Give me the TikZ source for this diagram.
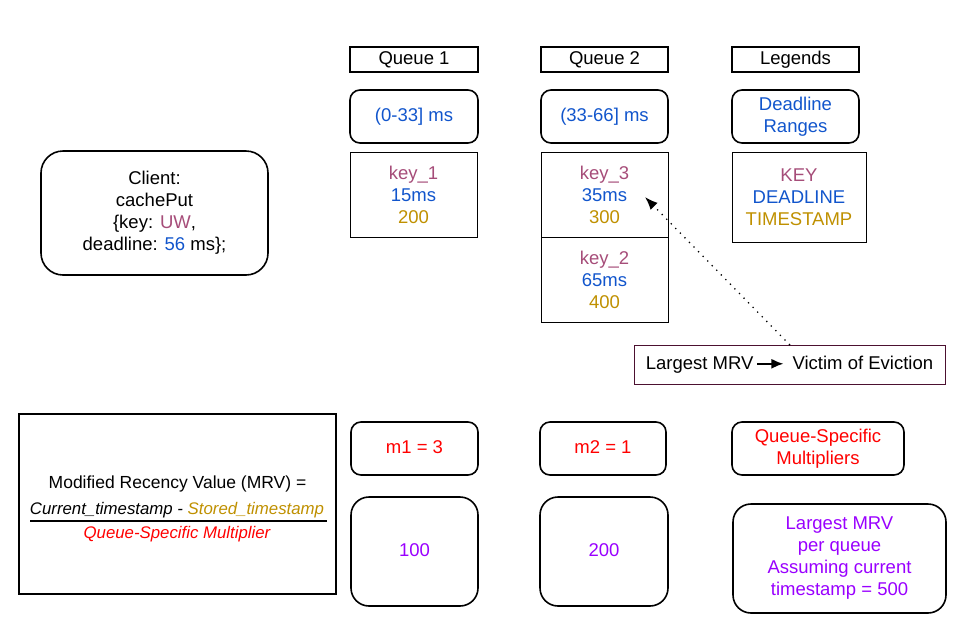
\documentclass[tikz,border=0pt]{standalone}
\usepackage{fontspec}
\setmainfont{Liberation Sans}
\usepackage{tikz}
\usetikzlibrary{arrows.meta,positioning}
\usepackage{xcolor}
\definecolor{keycol}{RGB}{166,77,121}
\definecolor{dlcol}{RGB}{17,85,204}
\definecolor{tscol}{RGB}{191,144,0}
\definecolor{mulcol}{RGB}{255,0,0}
\definecolor{mrvcol}{RGB}{153,0,255}
\definecolor{evictcol}{RGB}{76,17,48}

\begin{document}
\begin{tikzpicture}[
    x=1pt, y=-1pt,
    every node/.style={font=\fontsize{18.5}{22}\selectfont, align=center, inner sep=0pt},
    oneline/.style={text height=10pt, text depth=0pt},
    hdr/.style={draw, oneline, line width=1.6pt, minimum width=128pt, minimum height=25pt},
    rbox/.style={draw, line width=1.6pt, rounded corners=10pt, minimum width=128pt, minimum height=53pt},
    cell/.style={draw, line width=0.8pt, minimum width=127pt, minimum height=85pt},
    bigbox/.style={draw, line width=1.6pt, rounded corners=18pt, minimum width=128pt, minimum height=109pt},
    formula/.style={font=\fontsize{17.5}{20}\selectfont},
    fracpart/.style={font=\fontsize{16.8}{20}\selectfont\itshape},
    arrow/.style={-{Latex[length=13pt,width=10pt]}, line width=1.8pt, line cap=round, dash pattern=on 0pt off 6.5pt}
]
\useasboundingbox (0,0) rectangle (956,641);

% === Client ===
\node[draw, line width=1.6pt, rounded corners=22pt, minimum width=227pt, minimum height=124pt] (client) at (154.5,213)
    {Client:\\cachePut\\\{key: \textcolor{keycol}{UW},\\deadline: \textcolor{dlcol}{56} ms\};};

% === Headers ===
\node[hdr] (q1) at (414,59.5) {Queue 1};
\node[hdr, minimum width=127pt] (q2) at (604.5,59.5) {Queue 2};
\node[hdr, minimum width=127pt] (leg) at (795.5,59.5) {Legends};

% Deadline ranges
\node[rbox, oneline, text=dlcol] (range1) at (414,116.5) {(0-33] ms};
\node[rbox, oneline, text=dlcol, minimum width=127pt] (range2) at (604.5,116.5) {(33-66] ms};
\node[rbox, text=dlcol, minimum width=127pt] (rangeleg) at (795.5,116.5) {Deadline\\Ranges};

% Entries
\node[cell] (key1) at (413.5,194.5)
    {\textcolor{keycol}{key\_1}\\\textcolor{dlcol}{15ms}\\\textcolor{tscol}{200}};
\node[cell] (key3) at (604.5,194.5)
    {\textcolor{keycol}{key\_3}\\\textcolor{dlcol}{35ms}\\\textcolor{tscol}{300}};
\node[cell] (key2) at (604.5,279.5)
    {\textcolor{keycol}{key\_2}\\\textcolor{dlcol}{65ms}\\\textcolor{tscol}{400}};
\node[cell, minimum width=134pt, minimum height=90pt] (keyleg) at (799,197)
    {\textcolor{keycol}{KEY}\\\textcolor{dlcol}{DEADLINE}\\\textcolor{tscol}{TIMESTAMP}};

% === Eviction ===
\node[draw=evictcol, line width=0.8pt, minimum width=311pt, minimum height=39pt] (evict) at (789.5,364.5)
    {Largest MRV\,\tikz[baseline=-5.5pt]\draw[-{Latex[length=12pt,width=10pt]}, line width=1.8pt] (0pt,0pt) -- (26pt,0pt);\, Victim of Eviction};
\coordinate (victim) at (645,197);
\draw[arrow] (evict.north) -- (victim);

% === MRV formula ===
\node[draw, line width=1.6pt, minimum width=317pt, minimum height=180pt] (mrv) at (177.5,504) {};
\node[formula] (mrvlabel) at (177.5,484) {Modified Recency Value (MRV) =};
\node[fracpart] (numer) at (177,510)
    {Current\_timestamp - \textcolor{tscol}{Stored\_timestamp}};
\draw[line width=1.6pt] (30,521) -- (327,521);
\node[fracpart, text=mulcol] (denom) at (177,534) {Queue-Specific Multiplier};

% === Multipliers ===
\node[rbox, oneline, text=mulcol, minimum width=127pt] (m1) at (414.5,448.5) {m1 = 3};
\node[rbox, oneline, text=mulcol, minimum width=126pt] (m2) at (603,448.5) {m2 = 1};
\node[rbox, text=mulcol, minimum width=172pt] (mleg) at (818,448.5) {Queue-Specific\\Multipliers};

% Largest MRV per queue
\node[bigbox, oneline, text=mrvcol, minimum width=127pt] (v1) at (414.5,551.5) {100};
\node[bigbox, oneline, text=mrvcol] (v2) at (604,551.5) {200};
\node[bigbox, text=mrvcol, minimum width=213pt] (vleg) at (839.5,558.5)
    {Largest MRV\\per queue\\Assuming current\\timestamp = 500};

\end{tikzpicture}
\end{document}
